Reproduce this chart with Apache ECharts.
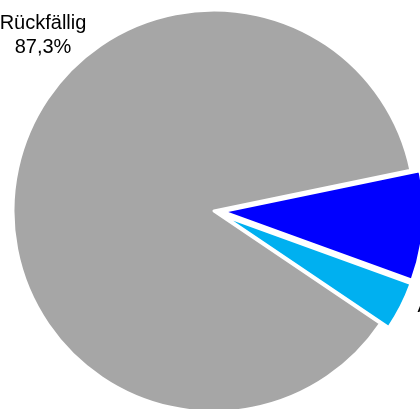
<!DOCTYPE html>
<html>
<head>
<meta charset="utf-8">
<script src="https://cdn.jsdelivr.net/npm/echarts@6/dist/echarts.min.js"></script>
<style>
  html, body { margin: 0; padding: 0; background: #fff; }
  #chart { width: 420px; height: 409px; }
</style>
</head>
<body>
<div id="chart"></div>
<script>
// Anteile in Prozent
const categories = ['Rückfällig', 'Nicht rückfällig', 'Abgebrochen']
const shares = [87.3, 8.8, 3.9]
const colors = ['#a6a6a6', '#0000ff', '#00b0f0']
// Beschriftung (Mitte oben der Labels)
const labelX = [43, 500, 477]
const labelY = [11, 190, 294]

const fmt = v => v.toFixed(1).replace('.', ',') + '%'

const chart = echarts.init(document.getElementById('chart'))

chart.setOption({
  animation: false,
  // Labels liegen teilweise außerhalb der Fläche, daher als graphic
  graphic: categories.map((name, i) => ({
    type: 'text',
    x: labelX[i],
    y: labelY[i],
    z: 10,
    style: {
      text: name + '\n' + fmt(shares[i]),
      fontFamily: 'Liberation Sans, Arial, sans-serif',
      fontSize: 20,
      lineHeight: 24,
      fill: '#000',
      align: 'center',
      verticalAlign: 'top'
    }
  })),
  series: [
    {
      type: 'pie',
      center: [214, 211],
      radius: 201,
      startAngle: 326,
      clockwise: true,
      selectedMode: 'multiple',
      selectedOffset: 9,
      itemStyle: {
        borderColor: '#fff',
        borderWidth: 3
      },
      label: { show: false },
      labelLine: { show: false },
      data: categories.map((name, i) => ({
        name,
        value: shares[i],
        selected: i > 0,
        itemStyle: { color: colors[i] }
      }))
    }
  ]
})
</script>
</body>
</html>
